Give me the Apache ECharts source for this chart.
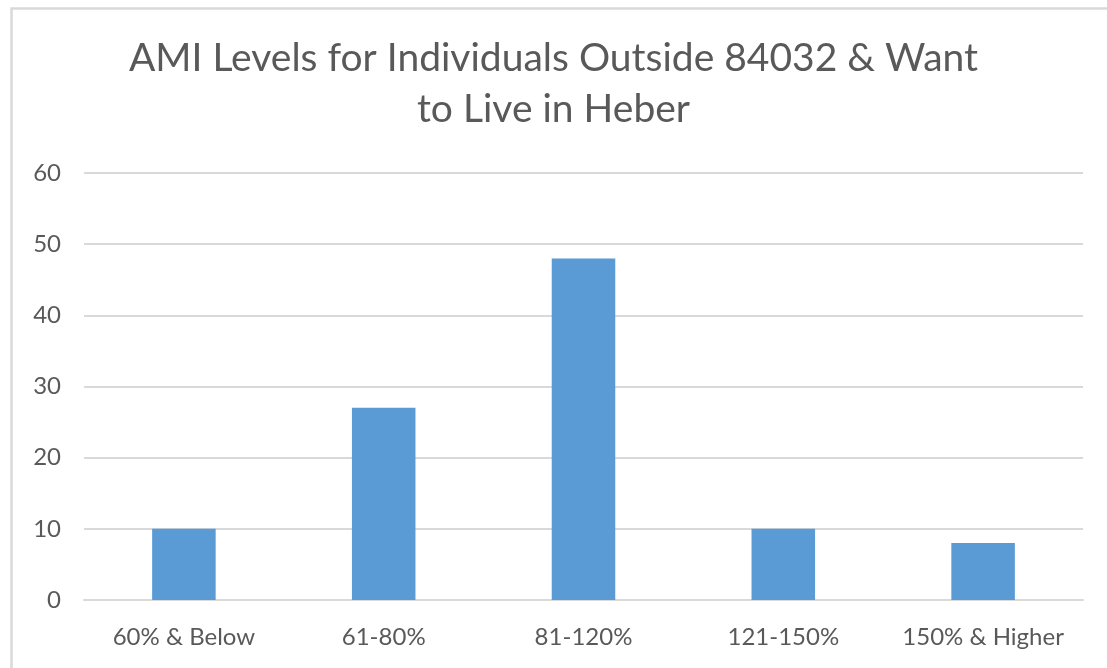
<!DOCTYPE html>
<html><head><meta charset="utf-8">
<script src="https://cdn.jsdelivr.net/npm/echarts@6/dist/echarts.min.js"></script>
<style>html,body{margin:0;padding:0;background:#fff}#c{width:1107px;height:668px}</style>
</head><body><div id="c"></div>
<script>
const titleLines = ['AMI Levels for Individuals Outside 84032 & Want', 'to Live in Heber'];
const categories = ['60% & Below', '61-80%', '81-120%', '121-150%', '150% & Higher'];
const values = [10, 27, 48, 10, 8];
const yTicks = { min: 0, max: 60, interval: 10 };

const FONT = 'Lato';
const chart = echarts.init(document.getElementById('c'), null, { renderer: 'canvas' });
chart.setOption({
  animation: false,
  backgroundColor: '#fff',
  graphic: [{
    type: 'rect', left: 9, top: 6, shape: { width: 1200, height: 800 },
    style: { fill: 'none', stroke: '#d9d9d9', lineWidth: 2.5 }, silent: true, z: -1
  }],
  title: {
    text: titleLines.join('\n'),
    left: 'center', top: 28,
    textStyle: { fontFamily: FONT, fontSize: 39, fontWeight: 'normal', color: '#595959', lineHeight: 51 }
  },
  grid: { left: 84, right: 24, top: 173, bottom: 68, containLabel: false },
  xAxis: {
    type: 'category', data: categories,
    axisLine: { lineStyle: { color: '#d9d9d9', width: 2 } },
    axisTick: { show: false },
    axisLabel: { interval: 0, fontFamily: FONT, fontSize: 24, color: '#595959', margin: 25 }
  },
  yAxis: {
    type: 'value', min: yTicks.min, max: yTicks.max, interval: yTicks.interval,
    axisLine: { show: false }, axisTick: { show: false },
    splitLine: { lineStyle: { color: '#d9d9d9', width: 2 } },
    axisLabel: { fontFamily: FONT, fontSize: 24, color: '#595959', margin: 23 }
  },
  series: [{
    type: 'bar', data: values, barWidth: '31.8%',
    itemStyle: { color: '#5B9BD5' }
  }]
});
</script></body></html>
